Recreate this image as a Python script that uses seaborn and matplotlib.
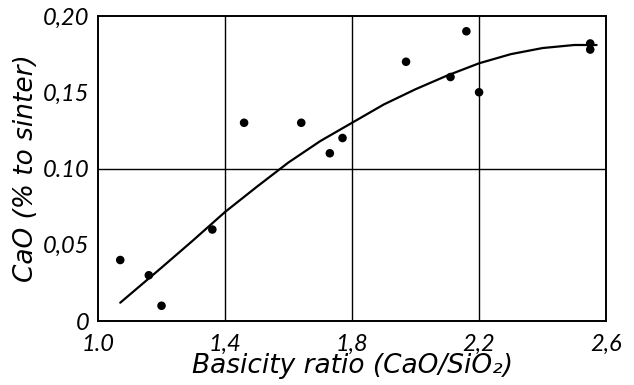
import matplotlib
matplotlib.use("Agg")
import matplotlib.pyplot as plt
import seaborn as sns
import pandas as pd

# measured points
basicity = [1.07, 1.16, 1.20, 1.36, 1.46, 1.64, 1.73, 1.77, 1.97, 2.11, 2.16, 2.20, 2.55, 2.55]
cao = [0.040, 0.030, 0.010, 0.060, 0.130, 0.130, 0.110, 0.120, 0.170, 0.160, 0.190, 0.150, 0.182, 0.178]

# fitted curve
curve_x = [1.07, 1.20, 1.30, 1.40, 1.50, 1.60, 1.70, 1.80, 1.90, 2.00, 2.10, 2.20, 2.30, 2.40, 2.50, 2.57]
curve_y = [0.012, 0.035, 0.053, 0.0715, 0.088, 0.104, 0.118, 0.130, 0.142, 0.152, 0.161, 0.169, 0.175, 0.179, 0.181, 0.181]

x_ticks = [1.0, 1.4, 1.8, 2.2, 2.6]
x_labels = ["1.0", "1,4", "1,8", "2,2", "2,6"]
y_ticks = [0.0, 0.05, 0.10, 0.15, 0.20]
y_labels = ["0", "0,05", "0.10", "0,15", "0,20"]

pts = pd.DataFrame({"x": basicity, "y": cao})
fit = pd.DataFrame({"x": curve_x, "y": curve_y})

sns.set_theme(style="white")
plt.rcParams["font.family"] = ["Lato", "DejaVu Sans"]
plt.rcParams["font.style"] = "italic"

fig = plt.figure(figsize=(6.34, 3.85), dpi=100)
ax = fig.add_axes([0.1546, 0.1662, 0.8014, 0.7922])

sns.lineplot(data=fit, x="x", y="y", color="black", linewidth=1.6, ax=ax)
sns.scatterplot(data=pts, x="x", y="y", color="black", s=38, edgecolor="none", ax=ax, zorder=3)

# grid as in the original: verticals at inner x ticks, one horizontal at 0.10
for xv in x_ticks[1:-1]:
    ax.axvline(xv, color="black", linewidth=1.0, zorder=1)
ax.axhline(0.10, color="black", linewidth=1.0, zorder=1)

ax.set_xlim(1.0, 2.6)
ax.set_ylim(0, 0.20)
ax.set_xticks(x_ticks)
ax.set_xticklabels(x_labels)
ax.set_yticks(y_ticks)
ax.set_yticklabels(y_labels)
ax.tick_params(axis="x", length=0, labelsize=17, pad=9, labelcolor="black")
ax.tick_params(axis="y", direction="in", length=8, width=1, color="black",
               labelsize=17, pad=6, labelcolor="black")

for s in ax.spines.values():
    s.set_color("black")
    s.set_linewidth(1.4)

label_font = dict(family="DejaVu Sans", style="oblique", fontsize=19, color="black")
ax.set_xlabel("Basicity ratio (CaO/SiO\u2082)", labelpad=-1, **label_font)
ax.set_ylabel("CaO (% to sinter)", labelpad=3, **label_font)

fig.savefig("out.png", dpi=100)
